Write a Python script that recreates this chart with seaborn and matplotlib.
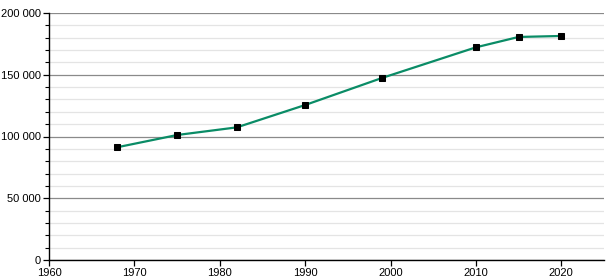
import matplotlib
matplotlib.use("Agg")
import matplotlib.pyplot as plt
import seaborn as sns
import pandas as pd
from matplotlib.ticker import MultipleLocator, FuncFormatter

years = [1968, 1975, 1982, 1990, 1999, 2010, 2015, 2020]
population = [91300, 101200, 107400, 125500, 147400, 172200, 180600, 181400]

df = pd.DataFrame({"year": years, "population": population})

sns.set_style("white")
plt.rcParams["font.family"] = ["Liberation Sans", "DejaVu Sans"]

fig = plt.figure(figsize=(6.15, 2.8), dpi=100)
ax = fig.add_axes([49/615, 20/280, (604-49)/615, (260-13)/280])

ax.set_xlim(1960, 2025)
ax.set_ylim(0, 200000)
ax.yaxis.set_major_locator(MultipleLocator(50000))
ax.yaxis.set_minor_locator(MultipleLocator(10000))
ax.xaxis.set_major_locator(MultipleLocator(10))
ax.yaxis.set_major_formatter(FuncFormatter(lambda v, p: f"{int(v):,}".replace(",", " ")))

ax.grid(which="major", axis="y", color="#8a8a8a", linewidth=0.9, zorder=0)
ax.grid(which="minor", axis="y", color="#e4e4e4", linewidth=0.9, zorder=0)
ax.grid(False, axis="x")
ax.set_axisbelow(True)

sns.lineplot(data=df, x="year", y="population", ax=ax, color="#0a8c66",
             linewidth=1.6, marker="s", markersize=3.8,
             markerfacecolor="black", markeredgecolor="black", zorder=3)

for s in ["top", "right"]:
    ax.spines[s].set_visible(False)
for s in ["left", "bottom"]:
    ax.spines[s].set_color("black")
    ax.spines[s].set_linewidth(1.0)

ax.tick_params(axis="both", which="major", direction="out", length=4, width=0.9,
               colors="black", labelsize=8, left=True, bottom=True, pad=2)
ax.tick_params(axis="y", which="minor", direction="out", length=3, width=0.8,
               colors="black", left=True)
ax.set_xlabel("")
ax.set_ylabel("")

fig.savefig("out.png", dpi=100)
